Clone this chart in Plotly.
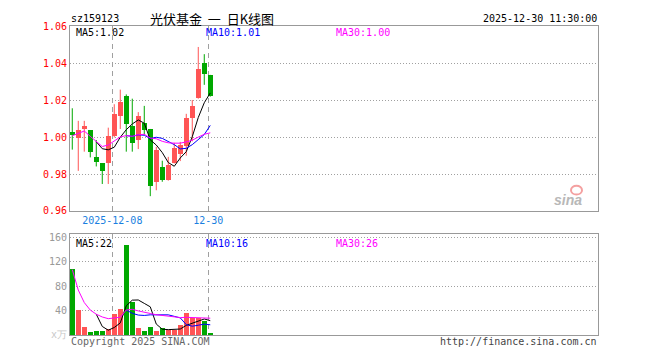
import plotly.graph_objects as go

# ---------------- data ----------------
dates = ["11-27", "11-28", "12-01", "12-02", "12-03", "12-04", "12-05", "12-08",
         "12-09", "12-10", "12-11", "12-12", "12-15", "12-16", "12-17", "12-18",
         "12-19", "12-22", "12-23", "12-24", "12-25", "12-26", "12-29", "12-30"]
open_ = [1.0025, 0.9995, 1.0046, 1.0035, 0.9893, 0.9858, 0.9858, 1.0004,
         1.0114, 1.0219, 1.0056, 0.9981, 1.0077, 1.0044, 0.9754, 0.9837,
         0.9764, 0.9857, 0.9908, 0.9951, 1.0103, 1.0208, 1.0397, 1.0337]
high = [1.0156, 1.0088, 1.0088, 1.0035, 0.9984, 0.9858, 1.0051, 1.0178,
        1.0257, 1.0231, 1.0208, 1.0135, 1.0169, 1.0044, 0.9947, 0.9872,
        0.9893, 0.9969, 0.9974, 1.0126, 1.0201, 1.0488, 1.0449, 1.0337]
low = [0.9932, 0.9817, 0.9921, 0.9890, 0.9841, 0.9746, 0.9746, 0.9998,
       1.0044, 0.9921, 0.9921, 0.9935, 1.0013, 0.9680, 0.9712, 0.9758,
       0.9764, 0.9857, 0.9870, 0.9899, 0.9977, 1.0208, 1.0283, 1.0219]
close = [1.0007, 1.0035, 1.0056, 0.9916, 0.9863, 0.9816, 1.0004, 1.0126,
         1.0187, 1.0068, 0.9969, 1.0114, 1.0039, 0.9733, 0.9930, 0.9764,
         0.9846, 0.9939, 0.9955, 1.0103, 1.0166, 1.0365, 1.0340, 1.0219]
ma5 = [None, None, None, None, 0.9975, 0.9937, 0.9931, 0.9945, 0.9999, 1.0040,
       1.0071, 1.0093, 1.0075, 0.9985, 0.9957, 0.9916, 0.9862, 0.9842, 0.9887,
       0.9921, 1.0002, 1.0106, 1.0186, 1.0239]
ma10 = [None] * 9 + [1.0008, 1.0004, 1.0012, 1.0010, 0.9992, 0.9999, 0.9993,
                     0.9978, 0.9959, 0.9936, 0.9939, 0.9959, 0.9984, 1.0014, 1.0063]
ma30 = [1.0007, 1.0021, 1.0033, 1.0004, 0.9975, 0.9949, 0.9957, 0.9978, 1.0001,
        1.0008, 1.0004, 1.0013, 1.0015, 0.9995, 0.9991, 0.9977, 0.9969, 0.9967,
        0.9967, 0.9974, 0.9983, 1.0000, 1.0015, 1.0023]
volume = [106.8, 40.0, 12.0, 4.0, 6.8, 6.8, 9.5, 34.0, 41.5, 146.6, 53.0, 11.0,
          5.7, 13.6, 5.7, 11.0, 7.3, 8.4, 16.3, 35.7, 27.8, 27.8, 23.0, 2.5]
vma5 = [None, None, None, None, 33.9, 13.9, 7.8, 12.2, 19.7, 47.7, 56.9, 57.2,
        51.6, 46.0, 17.8, 9.4, 8.7, 9.2, 9.7, 15.7, 19.1, 23.2, 26.1, 23.4]
vma10 = [None] * 9 + [40.8, 35.4, 32.5, 31.9, 32.9, 32.7, 33.2, 32.9, 30.4,
                      27.9, 16.8, 14.3, 15.9, 17.7, 16.6]
vma30 = [106.8, 73.4, 52.9, 40.7, 33.9, 29.4, 26.6, 27.5, 29.0, 40.8, 41.9,
         39.3, 36.7, 35.1, 33.1, 31.75, 30.3, 29.1, 28.4, 28.8, 28.7, 28.7,
         28.4, 27.4]
price_ticks = [0.96, 0.98, 1.00, 1.02, 1.04, 1.06]
vol_ticks = [40, 80, 120, 160]
date_labels = ["2025-12-08", "12-30"]
date_label_idx = [7, 23]

# ---------------- style ----------------
W, H = 660, 360
RED = "#ff5555"
GREEN = "#00a800"
GRAY = "#a0a0a0"
MONO = "DejaVu Sans Mono"


def fx(x):
    return x / W


def fy(y):
    return 1 - y / H


n = len(close)
idx = list(range(n))
up = [close[i] >= open_[i] for i in idx]
xr = [-0.38, 87.62]

fig = go.Figure()

# wicks
for flag, col in ((True, RED), (False, GREEN)):
    wx, wy = [], []
    for i in idx:
        if up[i] == flag:
            wx += [i, i, None]
            wy += [low[i], high[i], None]
    fig.add_trace(go.Scatter(x=wx, y=wy, mode="lines", line=dict(color=col, width=1),
                             hoverinfo="skip", xaxis="x", yaxis="y"))

# bodies
fig.add_trace(go.Bar(
    x=idx,
    y=[max(abs(close[i] - open_[i]), 0.0004) for i in idx],
    base=[min(open_[i], close[i]) for i in idx],
    width=0.78,
    marker=dict(color=[RED if u else GREEN for u in up], line=dict(width=0)),
    xaxis="x", yaxis="y"))

for arr, col in ((ma5, "#000000"), (ma10, "#0000ff"), (ma30, "#ff00ff")):
    fig.add_trace(go.Scatter(x=idx, y=arr, mode="lines", line=dict(color=col, width=1),
                             xaxis="x", yaxis="y", connectgaps=False))

# volume
fig.add_trace(go.Bar(
    x=idx, y=volume, width=0.78,
    marker=dict(color=[RED if u else GREEN for u in up], line=dict(width=0)),
    xaxis="x2", yaxis="y2"))
for arr, col in ((vma5, "#000000"), (vma10, "#0000ff"), (vma30, "#ff00ff")):
    fig.add_trace(go.Scatter(x=idx, y=arr, mode="lines", line=dict(color=col, width=1),
                             xaxis="x2", yaxis="y2"))

dash_pos = [i - 0.33 for i in date_label_idx]

axis_common = dict(showline=True, mirror=True, linecolor="#999999", linewidth=1,
                   zeroline=False, ticks="", fixedrange=True)

fig.update_layout(
    width=W, height=H,
    margin=dict(l=0, r=0, t=0, b=0),
    paper_bgcolor="white", plot_bgcolor="white",
    showlegend=False, bargap=0,
    font=dict(family=MONO, size=10),
    xaxis=dict(domain=[fx(70), fx(598)], range=xr, anchor="y",
               tickvals=dash_pos, ticktext=date_labels,
               tickfont=dict(color="#1a7fe0", size=10, family=MONO),
               showgrid=True, gridcolor=GRAY, griddash="5px,4px", gridwidth=1,
               **axis_common),
    yaxis=dict(domain=[fy(212), fy(21)], range=[0.96, 1.06], anchor="x",
               tickvals=price_ticks, ticktext=["%.2f" % v for v in price_ticks],
               tickfont=dict(color="#ff0000", size=10, family=MONO),
               showgrid=True, gridcolor=GRAY, griddash="1px,2px", gridwidth=1,
               **axis_common),
    xaxis2=dict(domain=[fx(70), fx(598)], range=xr, anchor="y2",
                tickvals=dash_pos, showticklabels=False,
                showgrid=True, gridcolor=GRAY, griddash="5px,4px", gridwidth=1,
                **axis_common),
    yaxis2=dict(domain=[fy(340.3), fy(236)], range=[0, 164.8], anchor="x2",
                tickvals=vol_ticks, ticktext=[str(v) for v in vol_ticks],
                tickfont=dict(color="#999999", size=10, family=MONO),
                showgrid=True, gridcolor=GRAY, griddash="1px,2px", gridwidth=1,
                **axis_common),
)


def txt(x, y, s, color="#000000", size=10, family=MONO, xanchor="left", **kw):
    fig.add_annotation(x=fx(x), y=fy(y), xref="paper", yref="paper", text=s,
                       showarrow=False, xanchor=xanchor, yanchor="middle",
                       font=dict(color=color, size=size, family=family), **kw)


# header
txt(69, 13, "sz159123", size=10)
txt(148, 13, "光伏基金&nbsp;&nbsp;一&nbsp;&nbsp;日K线图", size=13, family="Noto Sans CJK SC")
txt(599, 13, "2025-12-30 11:30:00", size=10, xanchor="right")
# MA legends
txt(74, 27, "MA5:1.02")
txt(204, 27, "MA10:1.01", color="#0000ff")
txt(334, 27, "MA30:1.00", color="#ff00ff")
txt(74, 246, "MA5:22")
txt(204, 246, "MA10:16", color="#0000ff")
txt(334, 246, "MA30:26", color="#ff00ff")
# footer
txt(49, 340, "x万", color="#c8c8c8")
txt(69, 347, "Copyright 2025 SINA.COM", color="#666666", size=10)
txt(599, 347, "http://finance.sina.com.cn", color="#444444", size=10, xanchor="right")
# sina watermark
fig.add_shape(type="circle", xref="paper", yref="paper",
              x0=fx(571), x1=fx(582), y0=fy(195), y1=fy(186),
              line=dict(color="#f4a0a0", width=2))
txt(584, 201, "<b><i>sina</i></b>", color="#b8b8b8", size=14,
    family="Liberation Sans", xanchor="right")

fig.write_html("out.html", config={"responsive": False, "displayModeBar": False},
               post_script="document.body.style.margin='0';document.body.style.overflow='hidden';")
